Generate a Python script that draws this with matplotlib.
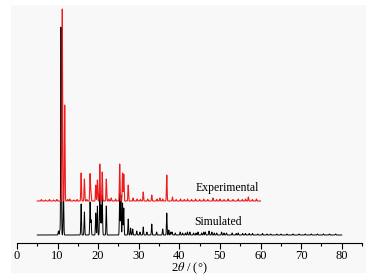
import numpy as np
import matplotlib
matplotlib.use("Agg")
import matplotlib.pyplot as plt
from matplotlib.patches import Rectangle

# simulated pattern peaks: 2theta (deg), height (arb. units)
simPos = [10.2, 10.55, 10.85, 11.45, 15.8, 16.6, 18.0, 18.25, 19.4, 19.8, 20.4,
          20.7, 21.0, 22.0, 25.3, 25.6, 26.0, 26.3, 27.4, 28.0, 28.5, 29.5,
          30.3, 31.1, 32.0, 33.2, 34.4, 35.9, 36.9, 37.4, 37.9, 38.2, 39.0,
          40.2, 40.8, 41.5, 42.0, 42.6, 43.5, 44.1, 44.6, 45.5, 46.0, 46.4,
          47.3, 48.0, 48.6, 49.2, 50.4, 51.0, 51.6, 53.0, 54.0, 54.5, 55.6,
          56.3, 57.2, 58.0, 59.3, 60.5, 61.6, 62.5, 64.0, 65.0, 66.5, 68.0,
          69.5, 71.0, 72.5, 74.0, 75.5, 77.0, 78.5]
simHeight = [4, 5, 208, 45, 31, 23, 33, 15, 22, 29, 42,
             30, 40, 29, 42, 40, 32, 27, 16, 7, 6, 4,
             3, 8, 3, 11, 3, 6, 22, 5, 3, 3, 2,
             3, 2, 2, 3, 3, 2, 2, 3, 2, 3, 3,
             4, 3, 2, 2, 3, 2, 2, 2, 1.5, 2, 1.5,
             1.5, 1.5, 1.5, 1, 1.5, 1, 1, 1, 1, 1, 1,
             1, 1, 1, 1, 1, 1, 1]

# experimental pattern peaks
expPos = [6.0, 7.0, 8.0, 9.0, 9.8, 11.15, 11.75, 12.5, 13.0, 14.0, 14.8, 15.8,
          16.6, 17.2, 18.0, 18.2, 19.4, 19.8, 20.4, 21.0, 22.0, 22.6, 23.2,
          24.3, 25.3, 26.0, 26.3, 27.4, 28.6, 29.6, 30.4, 31.1, 32.2, 33.2,
          34.5, 35.2, 35.9, 36.9, 38.3, 39.2, 40.3, 41.2, 42.0, 43.0, 44.0,
          45.0, 46.0, 47.0, 48.3, 49.2, 50.0, 51.0, 52.0, 53.2, 54.5, 55.5,
          56.3, 57.0, 58.0, 59.0]
expHeight = [1.5, 1, 1.5, 1, 1.5, 192, 96, 1.5, 2, 1, 1.5, 28,
             22, 1.5, 27, 10, 16, 21, 37, 29, 22, 2, 3,
             2, 37, 28, 27, 16, 3, 2, 1.5, 9, 2, 6,
             2, 3, 2, 26, 4, 1.5, 2, 1.5, 2, 1.5, 2,
             1.5, 2, 1.5, 3, 1.5, 2, 1.5, 2, 1.5, 2, 1.5,
             2, 4, 1.5, 2]

simRange = (5, 80)
expRange = (5, 60)
expOffset = 34


def pattern(pos, height, xr, width=0.08):
    x = np.linspace(xr[0], xr[1], 6000)
    y = np.zeros_like(x)
    for p, h in zip(pos, height):
        y += h * np.exp(-0.5 * ((x - p) / width) ** 2)
    return x, y


plt.rcParams['font.family'] = ['Liberation Serif', 'DejaVu Serif']
plt.rcParams['mathtext.fontset'] = 'stix'

fig = plt.figure(figsize=(3.79, 2.77), dpi=100)
fig.patches.append(Rectangle((11 / 379, 4 / 277), 355 / 379, 268 / 277,
                             transform=fig.transFigure, facecolor='#f8f8f8',
                             edgecolor='none', zorder=-10))

ax = fig.add_axes([17 / 379, 34 / 277, 345 / 379, 238 / 277])
ax.patch.set_alpha(0)

xs, ys = pattern(simPos, simHeight, simRange)
ax.plot(xs, ys, color='black', lw=0.7)
xe, ye = pattern(expPos, expHeight, expRange)
ax.plot(xe, ye + expOffset, color='#ee1c1c', lw=0.8)

ax.text(44.0, 47, 'Experimental', fontsize=8.5, va='center', ha='left')
ax.text(43.7, 13, 'Simulated', fontsize=8.5, va='center', ha='left')

ax.set_xlim(0, 85)
ax.set_ylim(-8, 230)
ax.set_xticks(np.arange(0, 81, 10))
ax.set_xticks(np.arange(5, 86, 10), minor=True)
ax.tick_params(axis='x', which='major', direction='out', length=4, width=0.8,
               labelsize=9, pad=1.2)
ax.tick_params(axis='x', which='minor', direction='out', length=2.2, width=0.8)
ax.set_yticks([])
for s in ['left', 'right', 'top']:
    ax.spines[s].set_visible(False)
ax.spines['bottom'].set_linewidth(0.8)
ax.set_xlabel(r'2$\theta$ / (°)', fontsize=9, labelpad=-1)

fig.savefig('out.png', dpi=100)
